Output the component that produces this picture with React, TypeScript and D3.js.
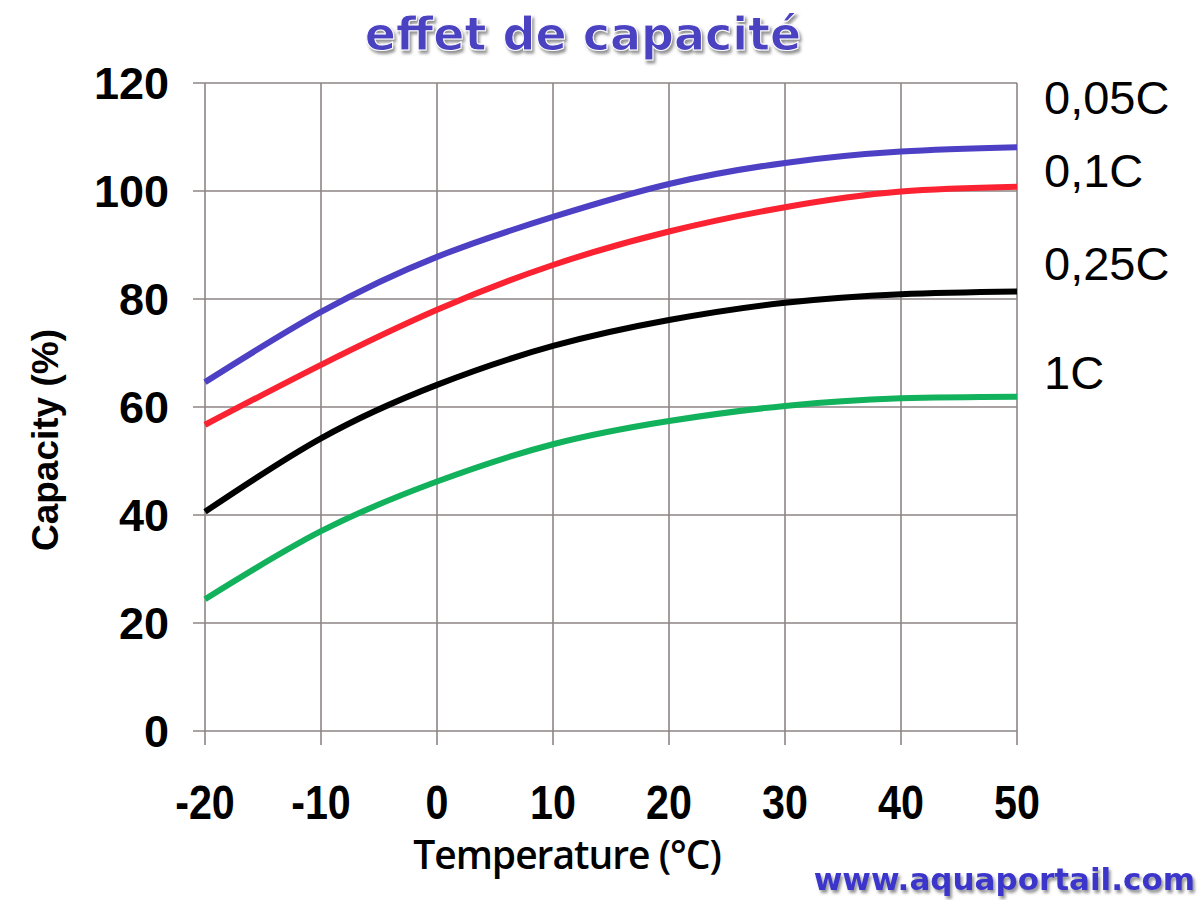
import React from "react";
import * as d3 from "d3";

// temperatures (°C) where each curve was sampled
const temps = [-20, -10, 0, 10, 20, 30, 40, 50];

// capacity (%) per discharge rate
const cap005 = [64.6, 77.6, 87.8, 95.2, 101.3, 105.2, 107.3, 108.1];
const cap01 = [56.7, 67.8, 78, 86.3, 92.5, 97, 99.9, 100.8];
const cap025 = [40.6, 54.2, 64.1, 71.3, 76.1, 79.3, 80.9, 81.4];
const cap1 = [24.4, 37, 46.2, 53.1, 57.4, 60.2, 61.6, 61.9];

const rateLabels = ["0,05C", "0,1C", "0,25C", "1C"];
const rateColors = ["#4d40c4", "#fb2231", "#000000", "#12b15c"];
const labelY = [117.5, 103.8, 86.6, 66.5]; // capacity level of each label's middle

const xTicks = [-20, -10, 0, 10, 20, 30, 40, 50];
const yTicks = [0, 20, 40, 60, 80, 100, 120];

function App() {
  const width = 1200;
  const height = 900;
  const marginLeft = 205;
  const marginRight = 183;
  const marginTop = 83;
  const marginBottom = 169;

  const x = d3.scaleLinear([-20, 50], [marginLeft, width - marginRight]);
  const y = d3.scaleLinear([0, 120], [height - marginBottom, marginTop]);

  const line = d3
    .line<[number, number]>()
    .x((d) => x(d[0]))
    .y((d) => y(d[1]))
    .curve(d3.curveNatural);

  const series = [cap005, cap01, cap025, cap1];
  const gridColor = "#8c8585";

  return (
    <svg
      width={width}
      height={height}
      viewBox={`0 0 ${width} ${height}`}
      style={{ display: "block", position: "absolute", left: 0, top: 0, background: "#fff" }}
    >
      <defs>
        <filter id="shadow" x="-5%" y="-20%" width="110%" height="150%">
          <feDropShadow dx="2" dy="3" stdDeviation="1.5" floodColor="#777" floodOpacity="0.8" />
        </filter>
      </defs>

      {/* grid */}
      <g stroke={gridColor} strokeWidth={1.6}>
        {yTicks.map((t) => (
          <line key={"h" + t} x1={x(-20) - 12} x2={x(50)} y1={y(t)} y2={y(t)} />
        ))}
        {xTicks.map((t) => (
          <line key={"v" + t} x1={x(t)} x2={x(t)} y1={y(120)} y2={y(0) + 14} />
        ))}
      </g>

      {/* y tick labels */}
      <g fontFamily="Liberation Sans, Arial, sans-serif" fontWeight="bold" fontSize={45} textAnchor="end">
        {yTicks.map((t) => (
          <text key={t} x={169} y={y(t) + 16}>
            {t}
          </text>
        ))}
      </g>

      {/* x tick labels */}
      <g fontFamily="Liberation Sans, Arial, sans-serif" fontWeight="bold" fontSize={48} textAnchor="middle">
        {xTicks.map((t) => (
          <text key={t} x={x(t)} y={819} transform={`translate(${x(t)},0) scale(0.86,1) translate(${-x(t)},0)`}>
            {t}
          </text>
        ))}
      </g>

      <text
        x={567}
        y={869}
        textAnchor="middle"
        fontFamily="Open Sans, sans-serif"
        fontWeight="600"
        fontSize={39}
        letterSpacing={-1}
      >
        Temperature (°C)
      </text>

      <text
        transform={`translate(58,440) rotate(-90)`}
        textAnchor="middle"
        fontFamily="Liberation Sans, Arial, sans-serif"
        fontWeight="bold"
        fontSize={37}
      >
        Capacity (%)
      </text>

      {/* curves */}
      {series.map((vals, i) => (
        <path
          key={rateLabels[i]}
          d={line(temps.map((t, j) => [t, vals[j]] as [number, number])) || ""}
          fill="none"
          stroke={rateColors[i]}
          strokeWidth={6}
          strokeLinecap="butt"
        />
      ))}

      {/* rate labels */}
      <g fontFamily="Liberation Sans, Arial, sans-serif" fontSize={47}>
        {rateLabels.map((lab, i) => (
          <text key={lab} x={1044} y={y(labelY[i]) + 17}>
            {lab}
          </text>
        ))}
      </g>

      <text
        x={583}
        y={50}
        textAnchor="middle"
        fontFamily="DejaVu Sans, Verdana, sans-serif"
        fontWeight="bold"
        fontSize={46}
        fill="#4b43c2"
        stroke="#fff"
        strokeWidth={1}
        filter="url(#shadow)"
      >
        effet de capacité
      </text>

      <text
        x={1195}
        y={890}
        textAnchor="end"
        fontFamily="DejaVu Sans, Verdana, sans-serif"
        fontWeight="bold"
        fontSize={31}
        fill="#3b35cc"
        filter="url(#shadow)"
      >
        www.aquaportail.com
      </text>
    </svg>
  );
}

export default App;
